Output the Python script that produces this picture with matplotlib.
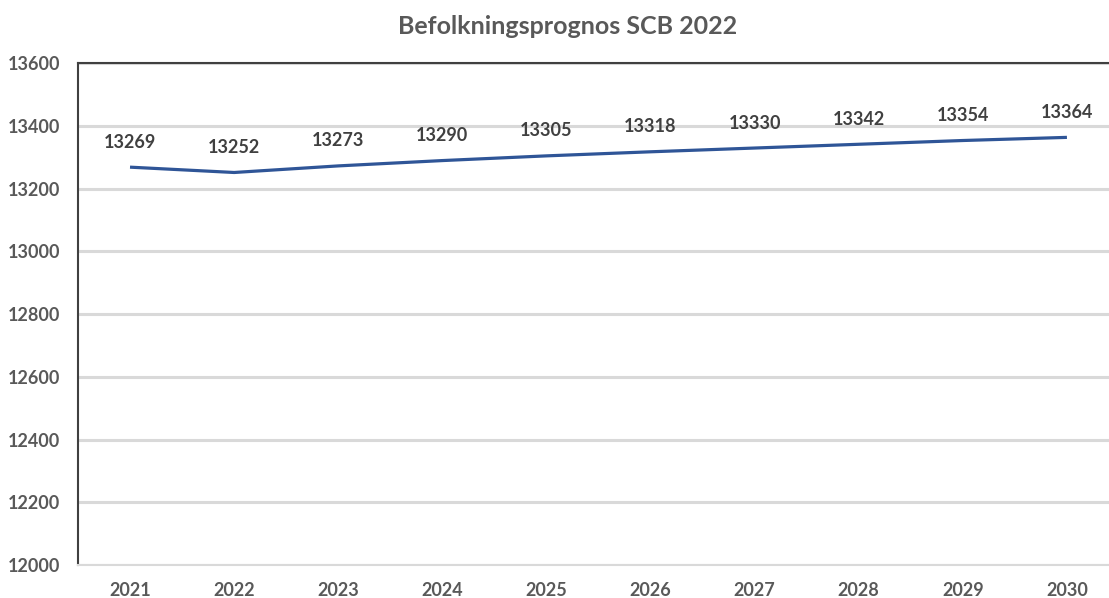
import matplotlib.pyplot as plt

years = ["2021", "2022", "2023", "2024", "2025", "2026", "2027", "2028", "2029", "2030"]
population = [13269, 13252, 13273, 13290, 13305, 13318, 13330, 13342, 13354, 13364]
y_ticks = [12000, 12200, 12400, 12600, 12800, 13000, 13200, 13400, 13600]

plt.rcParams["font.family"] = ["Lato", "DejaVu Sans"]

fig = plt.figure(figsize=(11.09, 5.98), dpi=100)
ax = fig.add_axes([0.0703, 0.0552, 0.9387, 0.8388])

x = list(range(len(years)))
ax.plot(x, population, color="#2F5597", linewidth=2.3, solid_capstyle="butt", zorder=3)

# data labels above each point
for xi, val in zip(x, population):
    ax.annotate(str(val), (xi, val), xytext=(0, 18), textcoords="offset points",
                ha="center", va="center", fontsize=13, fontweight="bold", color="#404040")

ax.set_xlim(-0.5, len(years) - 0.5)
ax.set_ylim(12000, 13600)
ax.set_yticks(y_ticks)
ax.set_xticks(x)
ax.set_xticklabels(years)
ax.grid(axis="y", color="#D9D9D9", linewidth=2.2, zorder=0)
ax.set_axisbelow(True)

ax.tick_params(axis="both", length=0, labelsize=13, labelcolor="#595959")
ax.tick_params(axis="y", pad=13)
ax.tick_params(axis="x", pad=12)
for lbl in ax.get_xticklabels() + ax.get_yticklabels():
    lbl.set_fontweight("bold")

ax.spines["right"].set_visible(False)
ax.spines["left"].set_color("#404040")
ax.spines["left"].set_linewidth(1.5)
ax.spines["top"].set_color("#404040")
ax.spines["top"].set_linewidth(1.5)
ax.spines["bottom"].set_color("#D9D9D9")
ax.spines["bottom"].set_linewidth(1.5)

fig.text(0.512, 0.955, "Befolkningsprognos SCB 2022", ha="center", va="center",
         fontsize=18, fontweight="bold", color="#595959")

fig.savefig("out.png", dpi=100)
